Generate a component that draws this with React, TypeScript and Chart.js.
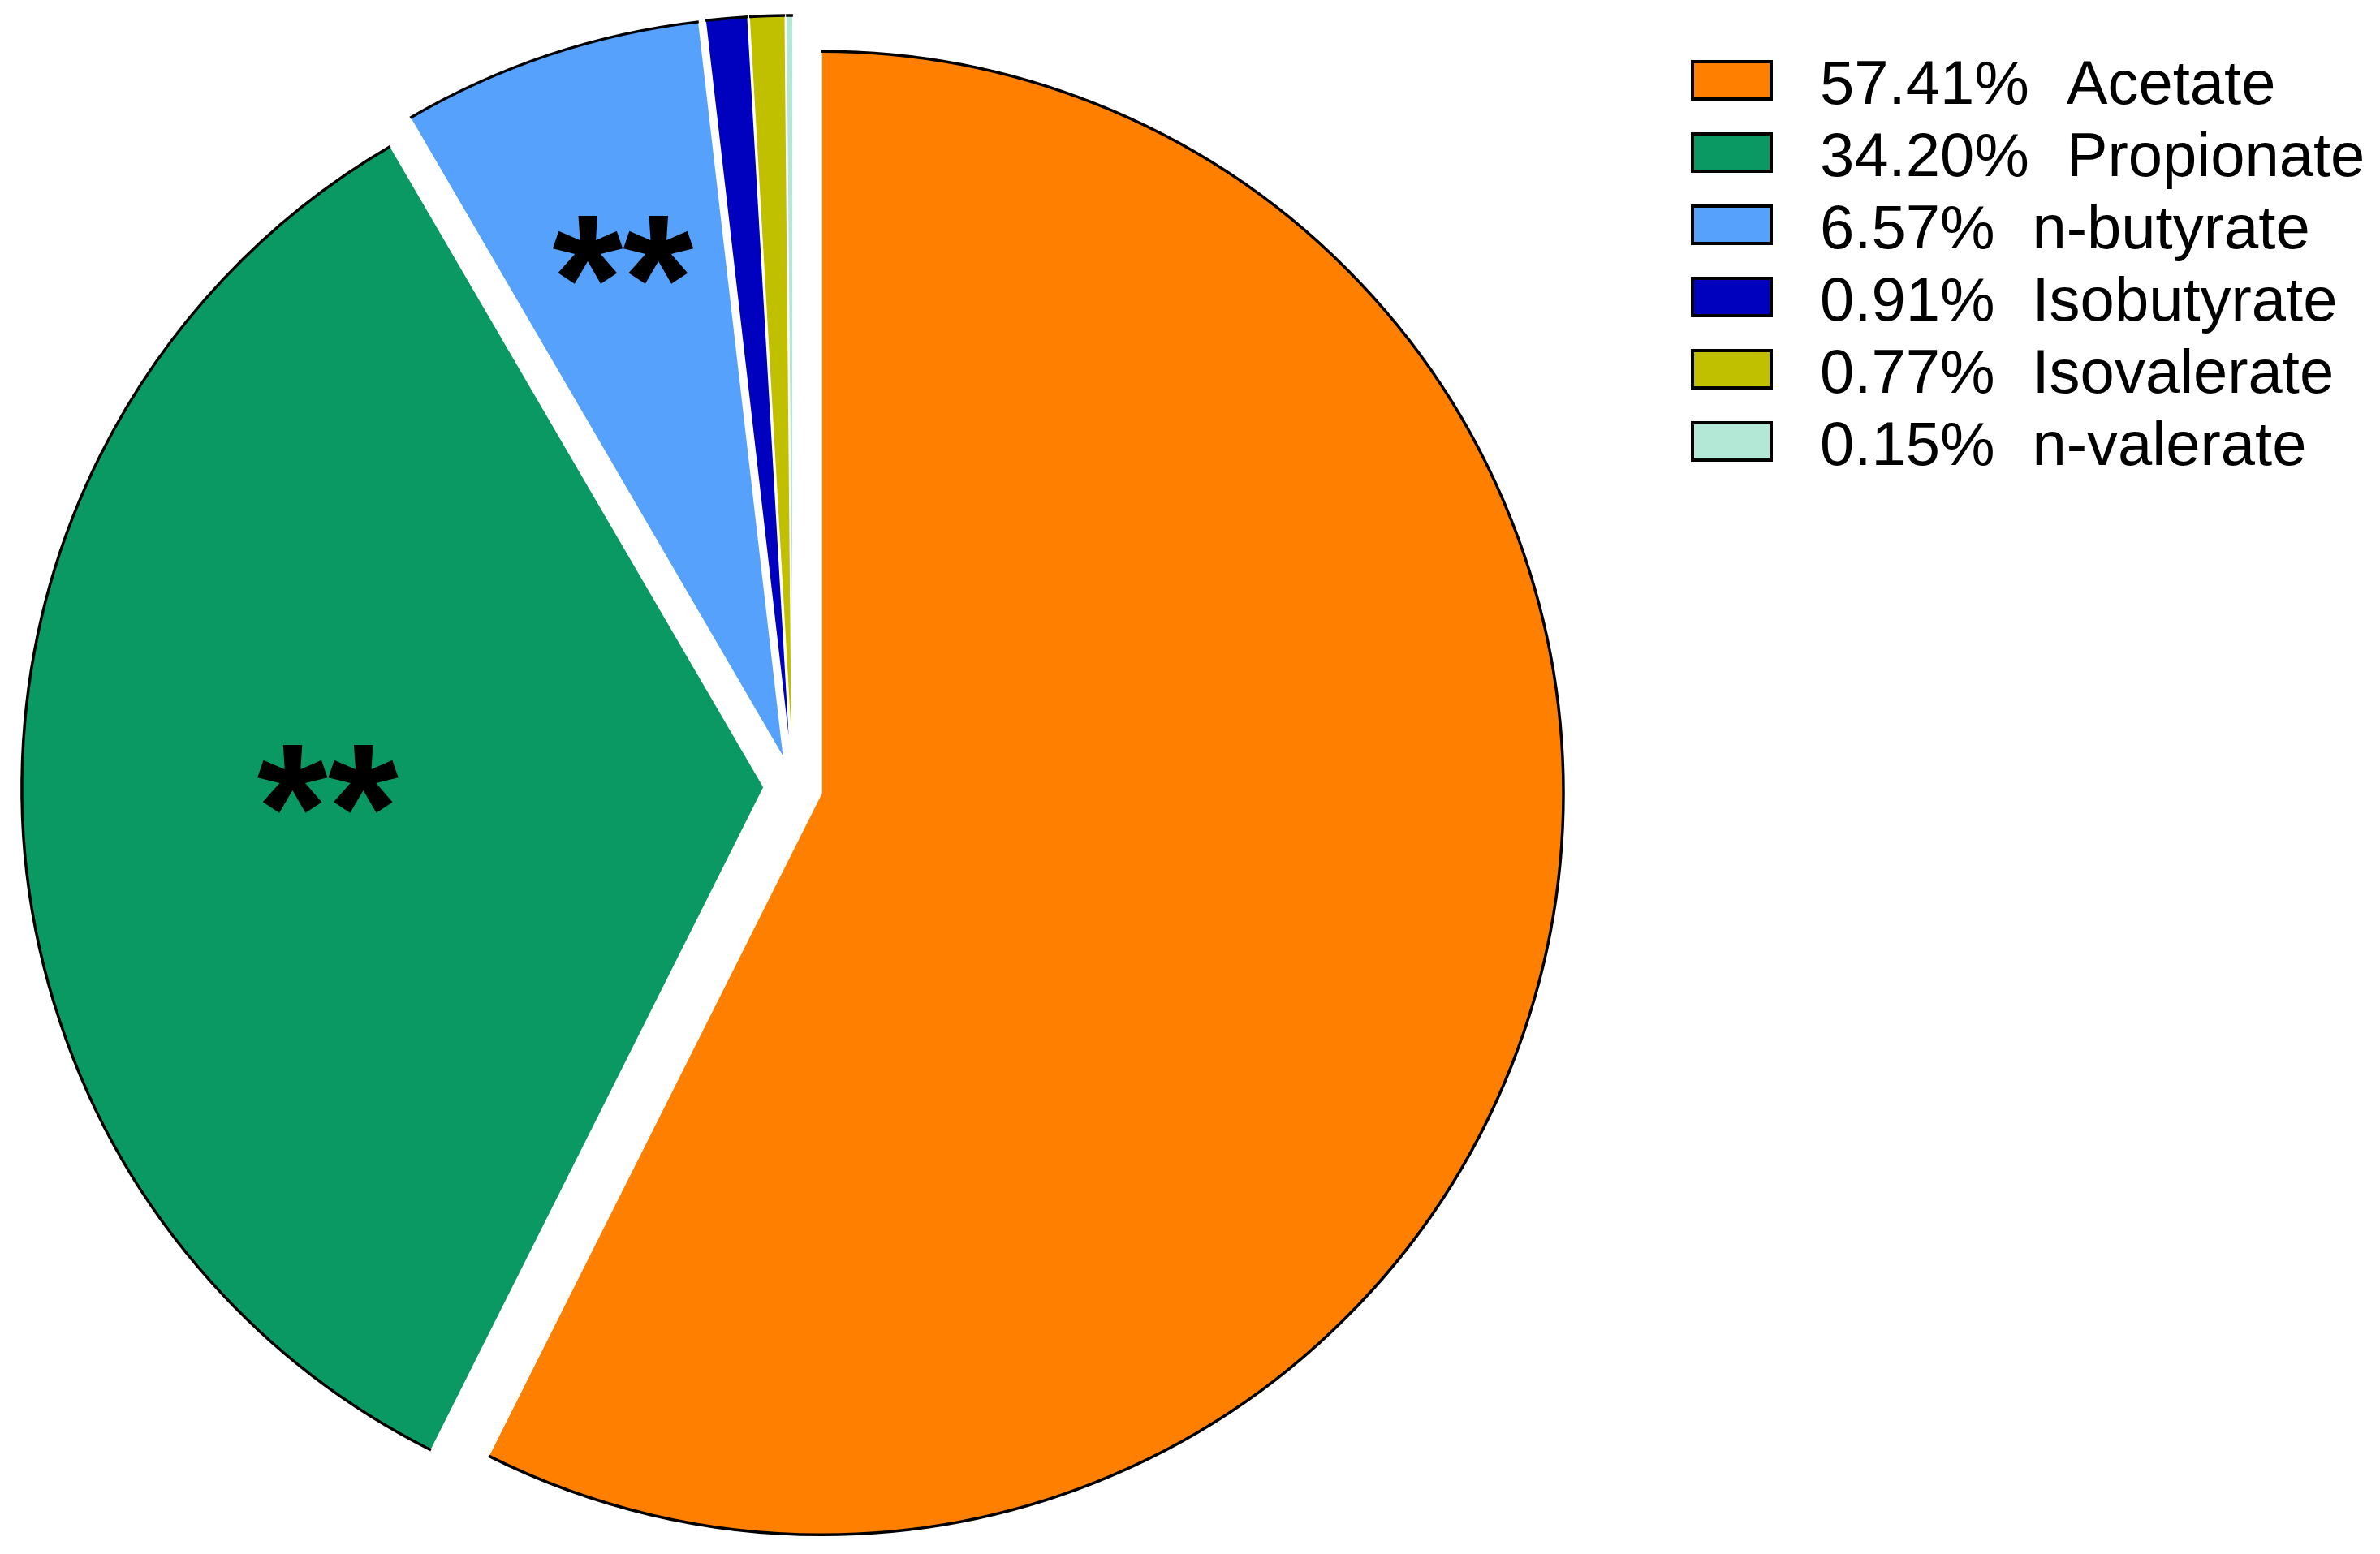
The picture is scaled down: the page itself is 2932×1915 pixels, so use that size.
import { useEffect, useRef } from "react";
import { Chart, registerables } from "chart.js";

Chart.register(...registerables);

// ---- data ----
const categories = ["Acetate", "Propionate", "n-butyrate", "Isobutyrate", "Isovalerate", "n-valerate"];
const percentages = [57.41, 34.2, 6.57, 0.91, 0.77, 0.15];
const significance = ["", "**", "**", "", "", ""];

// ---- styles ----
const sliceColors = ["#FF8000", "#0B9963", "#56A1FB", "#0000BF", "#C0C000", "#B3E8D6"];
const EXPLODE = 36;
const RADIUS = 914;
const STAR_RADIAL = [0, 0.588, 0.719, 0, 0, 0];
const STAR_ANGLE_SHIFT_DEG = [0, 2.66, 0.8, 0, 0, 0];
const FONT = '"Liberation Sans", Arial, sans-serif';

const explodePlugin = {
  id: "explodeSlices",
  beforeDatasetsDraw(chart: any) {
    chart.getDatasetMeta(0).data.forEach((arc: any) => {
      if (arc.__wrapped) return;
      const orig = arc.draw;
      arc.draw = function (ctx: CanvasRenderingContext2D, area: any) {
        const mid = (this.startAngle + this.endAngle) / 2;
        ctx.save();
        ctx.translate(Math.cos(mid) * EXPLODE, Math.sin(mid) * EXPLODE);
        orig.call(this, ctx, area);
        ctx.beginPath();
        ctx.arc(this.x, this.y, this.outerRadius, this.startAngle, this.endAngle);
        ctx.lineWidth = 3.5;
        ctx.strokeStyle = "#000";
        ctx.stroke();
        ctx.restore();
      };
      arc.__wrapped = true;
    });
  },
};

const starsPlugin = {
  id: "starLabels",
  afterDatasetsDraw(chart: any) {
    const ctx: CanvasRenderingContext2D = chart.ctx;
    const arcs = chart.getDatasetMeta(0).data;
    ctx.save();
    ctx.font = `bold 224px ${FONT}`;
    ctx.fillStyle = "#000";
    ctx.textAlign = "left";
    ctx.textBaseline = "alphabetic";
    arcs.forEach((arc: any, i: number) => {
      const txt = significance[i];
      if (!txt) return;
      const mid = (arc.startAngle + arc.endAngle) / 2 + (STAR_ANGLE_SHIFT_DEG[i] * Math.PI) / 180;
      const d = EXPLODE + STAR_RADIAL[i] * arc.outerRadius;
      const cx = arc.x + Math.cos(mid) * d;
      const cy = arc.y + Math.sin(mid) * d;
      const m = ctx.measureText(txt);
      const w = m.actualBoundingBoxLeft + m.actualBoundingBoxRight;
      const h = m.actualBoundingBoxAscent + m.actualBoundingBoxDescent;
      const x = cx - w / 2 + m.actualBoundingBoxLeft;
      const y = cy - h / 2 + m.actualBoundingBoxAscent;
      ctx.fillText(txt, x, y);
    });
    ctx.restore();
  },
};

const legendPlugin = {
  id: "pctLegend",
  afterDraw(chart: any) {
    const ctx: CanvasRenderingContext2D = chart.ctx;
    const colors = chart.data.datasets[0].backgroundColor;
    ctx.save();
    categories.forEach((name, i) => {
      const top = 76 + i * 89;
      ctx.fillStyle = colors[i];
      ctx.fillRect(2085, top, 97, 46);
      ctx.lineWidth = 4;
      ctx.strokeStyle = "#000";
      ctx.strokeRect(2085, top, 97, 46);
      ctx.fillStyle = "#000";
      ctx.font = `76px ${FONT}`;
      ctx.textAlign = "left";
      ctx.textBaseline = "alphabetic";
      const pct = `${percentages[i].toFixed(2)}%`;
      ctx.fillText(pct, 2242, top + 52);
      const pw = ctx.measureText(pct).width;
      ctx.fillText(name, 2242 + pw + 46, top + 52);
    });
    ctx.restore();
  },
};

export default function App() {
  const ref = useRef<HTMLCanvasElement>(null);
  useEffect(() => {
    if (!ref.current) return;
    const chart = new Chart(ref.current, {
      type: "pie",
      data: {
        labels: categories,
        datasets: [
          {
            data: percentages,
            backgroundColor: sliceColors,
            borderColor: "#FFFFFF",
            borderWidth: 1.5,
            hoverOffset: 0,
          },
        ],
      },
      options: {
        responsive: false,
        animation: false,
        devicePixelRatio: 1,
        events: [],
        radius: RADIUS,
        layout: { padding: { left: 0, right: 978, top: 23, bottom: 0 } },
        plugins: {
          legend: { display: false },
          tooltip: { enabled: false },
        },
      } as any,
      plugins: [explodePlugin, starsPlugin, legendPlugin],
    });
    return () => chart.destroy();
  }, []);
  return (
    <div style={{ position: "absolute", left: 0, top: 0, width: 2932, height: 1915, background: "#fff" }}>
      <canvas ref={ref} width={2932} height={1915} style={{ display: "block" }} />
    </div>
  );
}
